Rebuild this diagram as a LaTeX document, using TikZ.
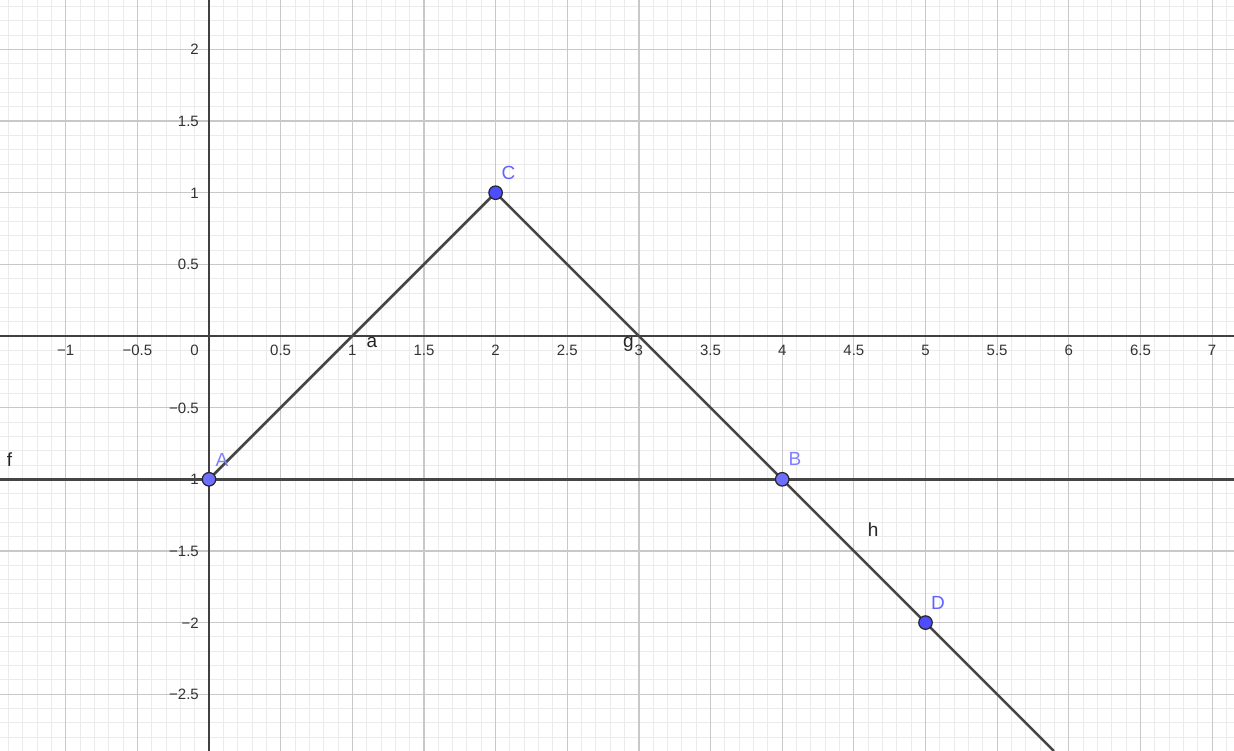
\documentclass[tikz,border=0pt]{standalone}
\usepackage{fontspec}
\setmainfont{Liberation Sans}
\definecolor{minorgrid}{HTML}{EBEBEB}
\definecolor{majorgrid}{HTML}{C8C8C8}
\definecolor{axiscol}{HTML}{404040}
\definecolor{linecol}{HTML}{454545}
\definecolor{ticktext}{HTML}{333333}
\definecolor{freept}{HTML}{6E6EFF}
\definecolor{fixpt}{HTML}{4D4DFF}
\definecolor{freelab}{HTML}{8080FF}
\definecolor{fixlab}{HTML}{6262FF}
\tikzset{
  minorstyle/.style={draw=minorgrid, line width=0.9pt},
  majorstyle/.style={draw=majorgrid, line width=1.2pt},
  axisstyle/.style={draw=axiscol, line width=1.5pt},
  objline/.style={draw=linecol, line width=2.6pt},
  xtick/.style={anchor=base, inner sep=0pt, text=ticktext, font=\fontsize{15}{17}\selectfont},
  ytick/.style={anchor=base east, inner sep=0pt, text=ticktext, font=\fontsize{15}{17}\selectfont},
  objlabel/.style={anchor=base, inner sep=0pt, text=black!85, font=\fontsize{19}{21}\selectfont},
  ptlabel/.style={anchor=base, inner sep=0pt, font=\fontsize{19}{21}\selectfont},
  freepoint/.style={circle, draw=black!85, line width=1.2pt, fill=freept, minimum size=13.5pt, inner sep=0pt},
  fixpoint/.style={circle, draw=black!85, line width=1.2pt, fill=fixpt, minimum size=13.5pt, inner sep=0pt}
}
\begin{document}
\begin{tikzpicture}[x=143.3pt, y=143.3pt]
\useasboundingbox (-1.4585,-2.8960) rectangle (7.1528,2.3447);
\fill[white] (-1.4585,-2.8960) rectangle (7.1528,2.3447);
% minor grid
\foreach \i in {-14,...,71}
  \draw[minorstyle] (\i/10,-2.8960) -- (\i/10,2.3447);
\foreach \j in {-28,...,23}
  \draw[minorstyle] (-1.4585,\j/10) -- (7.1528,\j/10);
% major grid
\foreach \i in {-2,...,14}
  \draw[majorstyle] (\i/2,-2.8960) -- (\i/2,2.3447);
\foreach \j in {-5,...,4}
  \draw[majorstyle] (-1.4585,\j/2) -- (7.1528,\j/2);
% axes
\coordinate (xl) at (-1.4585,0);
\coordinate (xr) at (7.1528,0);
\coordinate (yb) at (0,-2.8960);
\coordinate (yt) at (0,2.3447);
\draw[axisstyle] (xl) -- (xr);
\draw[axisstyle] (yb) -- (yt);
% tick labels
\foreach \v/\t in {-1/−1,-0.5/−0.5,0.5/0.5,1/1,1.5/1.5,2/2,2.5/2.5,3/3,3.5/3.5,4/4,4.5/4.5,5/5,5.5/5.5,6/6,6.5/6.5,7/7}
  \node[xtick] (xt\v) at (\v,-0.135) {\t};
\foreach \v/\t in {-2.5/−2.5,-2/−2,-1.5/−1.5,-1/−1,-0.5/−0.5,0.5/0.5,1/1,1.5/1.5,2/2}
  \node[ytick] (yt\v) at (-0.0698,\v-0.0384) {\t};
\node[ytick] (origin) at (-0.0698,-0.135) {0};
% points
\coordinate (A) at (0,-1);
\coordinate (B) at (4,-1);
\coordinate (C) at (2,1);
\coordinate (D) at (5,-2);
\coordinate (fL) at (-1.4585,-1);
\coordinate (fR) at (7.1528,-1);
\coordinate (hEnd) at (5.896,-2.896);
% objects
\draw[objline] (fL) -- (fR);
\draw[objline] (A) -- (C);
\draw[objline] (C) -- (B);
\draw[objline] (B) -- (D) -- (hEnd);
% point markers
\node[freepoint] (Apt) at (A) {};
\node[freepoint] (Bpt) at (B) {};
\node[fixpoint] (Cpt) at (C) {};
\node[fixpoint] (Dpt) at (D) {};
% labels
\node[ptlabel, text=freelab] (Alab) at (0.0907,-0.912) {A};
\node[ptlabel, text=freelab] (Blab) at (4.089,-0.907) {B};
\node[ptlabel, text=fixlab] (Clab) at (2.090,1.089) {C};
\node[ptlabel, text=fixlab] (Dlab) at (5.087,-1.912) {D};
\node[objlabel] (flab) at (-1.392,-0.914) {f};
\node[objlabel] (alab) at (1.137,-0.0837) {a};
\node[objlabel] (glab) at (2.927,-0.0837) {g};
\node[objlabel] (hlab) at (4.634,-1.396) {h};
\end{tikzpicture}
\end{document}
